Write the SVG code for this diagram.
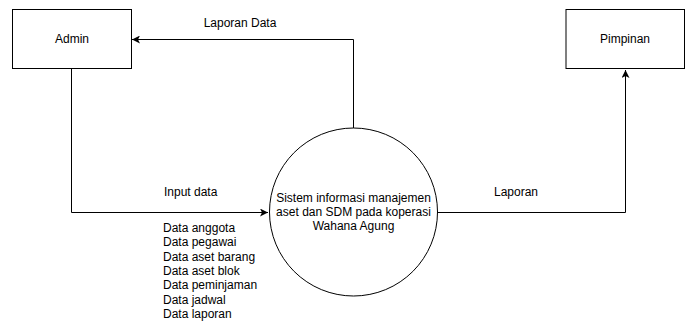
<svg xmlns="http://www.w3.org/2000/svg" width="691" height="323" viewBox="0 0 691 323">
  <style>
    .box { fill: #ffffff; stroke: #000000; stroke-width: 1; }
    .edge { fill: none; stroke: #000000; stroke-width: 1; }
    text { font-family: "Liberation Sans", Arial, Helvetica, sans-serif; font-size: 12px; fill: #000000; }
    .c { text-anchor: middle; }
  </style>
  <defs>
    <marker id="arrow" viewBox="0 0 10 10" refX="10" refY="5" markerWidth="8" markerHeight="8" markerUnits="userSpaceOnUse" orient="auto">
      <path d="M0,0 L10,5 L0,10 L2.5,5 Z" fill="#000000"/>
    </marker>
  </defs>
  <rect width="691" height="323" fill="#ffffff"/>

  <g id="connectors">
    <!-- process to Admin: report data -->
    <path class="edge" d="M353.5,128 L353.5,39.5 L132,39.5" marker-end="url(#arrow)"/>
    <text class="c" x="240" y="27">Laporan Data</text>
    <!-- Admin to process: input data -->
    <path class="edge" d="M71.5,69 L71.5,212.5 L268,212.5" marker-end="url(#arrow)"/>
    <text x="164" y="196">Input data</text>
    <text x="163" y="232">Data anggota</text>
    <text x="163" y="246.3">Data pegawai</text>
    <text x="163" y="260.6">Data aset barang</text>
    <text x="163" y="274.9">Data aset blok</text>
    <text x="163" y="289.2">Data peminjaman</text>
    <text x="163" y="303.5">Data jadwal</text>
    <text x="163" y="317.8">Data laporan</text>
    <!-- process to Pimpinan: report -->
    <path class="edge" d="M437,212.5 L625.5,212.5 L625.5,70" marker-end="url(#arrow)"/>
    <text class="c" x="516" y="196">Laporan</text>
  </g>

  <g id="admin">
    <rect class="box" x="12.5" y="9.5" width="119" height="59"/>
    <text class="c" x="72" y="43">Admin</text>
  </g>

  <g id="pimpinan">
    <rect class="box" x="566" y="9.5" width="118.5" height="59"/>
    <text class="c" x="625" y="43">Pimpinan</text>
  </g>

  <g id="sistem">
    <circle class="box" cx="353.5" cy="212" r="84"/>
    <text class="c" x="353.5" y="201.5">Sistem informasi manajemen</text>
    <text class="c" x="353.5" y="215.5">aset dan SDM pada koperasi</text>
    <text class="c" x="353.5" y="229.5">Wahana Agung</text>
  </g>
</svg>
